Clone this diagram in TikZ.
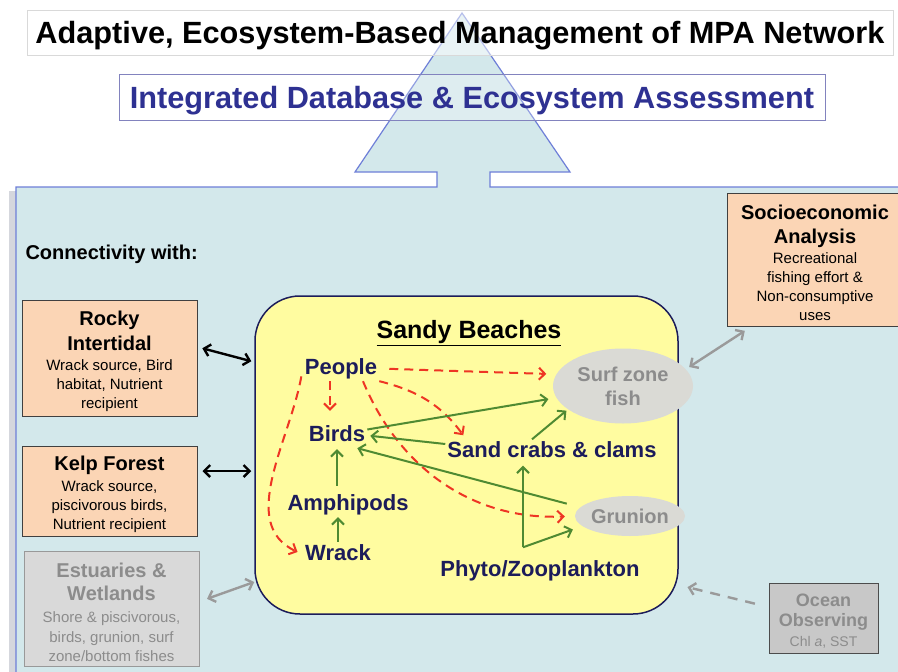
\documentclass[tikz,border=0pt]{standalone}
\usepackage{fontspec}
\setmainfont{Liberation Sans}
\usepackage{tikz}
\usetikzlibrary{arrows.meta,shapes.geometric}
\usetikzlibrary{positioning}

\definecolor{panelblue}{HTML}{D3E8EB}
\definecolor{edgeblue}{HTML}{6E7FD8}
\definecolor{shadegrey}{HTML}{D5D7DD}
\definecolor{peach}{HTML}{FBD5B5}
\definecolor{beachyellow}{HTML}{FFFCA0}
\definecolor{navy}{HTML}{1C1C5A}
\definecolor{intblue}{HTML}{2E3192}
\definecolor{webred}{HTML}{EE3524}
\definecolor{webgreen}{HTML}{4F8A32}
\definecolor{poolgrey}{HTML}{DADAD5}
\definecolor{boxgrey}{HTML}{D9D9D9}
\definecolor{oceangrey}{HTML}{C8C8C8}
\definecolor{txtgrey}{HTML}{8C8C8C}
\definecolor{linkgrey}{HTML}{9A9A9A}

\newcommand{\boxhead}{\fontsize{20}{25}\selectfont\bfseries}
\newcommand{\boxbody}{\fontsize{15}{19}\selectfont}
\newcommand{\headroom}[1]{\rule{0pt}{#1}}

\tikzset{
  linkbox/.style={draw=black!75, line width=1pt, fill=peach, align=center, inner sep=0pt, font=\boxbody},
  greybox/.style={draw=black!40, line width=1pt, fill=boxgrey, text=txtgrey, align=center, inner sep=0pt, font=\boxbody},
  web/.style={font=\fontsize{22}{26}\selectfont\bfseries, text=navy, text height=16pt, text depth=5pt, inner sep=2pt},
  fishpool/.style={ellipse, fill=poolgrey, text=txtgrey, font=\fontsize{20}{24}\selectfont\bfseries, align=center, inner sep=0pt},
  human/.style={->, webred, line width=2pt, dash pattern=on 9pt off 6pt},
  feeds/.style={->, webgreen, line width=2pt},
  bothway/.style={<->, line width=2.4pt},
  >={Straight Barb[length=6pt,width=12pt]},
}

\begin{document}
\begin{tikzpicture}[x=1pt, y=-1pt]
  \useasboundingbox (0,0) rectangle (898,672);
  \fill[white] (0,0) rectangle (898,672);

  % panel and arrow up to the assessment
  \fill[shadegrey] (9,191) rectangle (16,680);
  \filldraw[fill=panelblue, draw=edgeblue, line width=1.2pt]
    (16,690) -- (16,187) -- (437,187) -- (437,172) -- (355,172) -- (462,13)
    -- (570,172) -- (490,172) -- (490,187) -- (910,187) -- (910,690) -- cycle;

  \node[draw=black!15, fill=white, fill opacity=0.5, text opacity=1, inner sep=0pt,
        minimum width=866pt, minimum height=45pt, text depth=0pt,
        font=\fontsize{30.7}{36}\selectfont\bfseries] (goal) at (460,32.5)
        {Adaptive, Ecosystem-Based Management of MPA Network};
  \node[draw=intblue!60, line width=1pt, fill=white, fill opacity=0.25, text opacity=1, inner sep=0pt,
        minimum width=706pt, minimum height=46pt, text=intblue, text depth=0pt,
        font=\fontsize{30.7}{36}\selectfont\bfseries] (assess) at (472,97)
        {Integrated Database \& Ecosystem Assessment};

  \node[font=\fontsize{20}{24}\selectfont\bfseries, anchor=west] (conn) at (22,254) {Connectivity with:};

  % neighbouring habitats
  \node[linkbox, minimum width=175pt, minimum height=116pt] (rocky) at (109.5,358)
    {\headroom{22pt}\boxhead Rocky\\[6pt] \boxhead Intertidal\\[1pt] Wrack source, Bird\\ habitat, Nutrient\\ recipient};
  \node[linkbox, minimum width=175pt, minimum height=90pt] (kelp) at (109.5,491)
    {\headroom{22pt}\boxhead Kelp Forest\\[2pt] Wrack source,\\ piscivorous birds,\\ Nutrient recipient};
  \node[greybox, minimum width=175pt, minimum height=115pt] (estu) at (111.5,608.5)
    {\headroom{22pt}\boxhead Estuaries \&\\[4pt] \boxhead Wetlands\\[3pt] Shore \& piscivorous,\\[1pt] birds, grunion, surf\\ zone/bottom fishes};
  \node[linkbox, minimum width=176pt, minimum height=133pt] (socio) at (815,259.5)
    {\headroom{21pt}\boxhead Socioeconomic\\[5pt] \boxhead Analysis\\[1pt] Recreational\\ fishing effort \&\\ Non-consumptive\\ uses};
  \node[greybox, fill=oceangrey, draw=black!70, minimum width=109pt, minimum height=70pt,
        font=\fontsize{14}{17}\selectfont] (ocean) at (823.5,618)
    {\headroom{19pt}\fontsize{18}{20}\selectfont\bfseries Ocean\\[3pt] \fontsize{18}{20}\selectfont\bfseries Observing\\[3pt] Chl \textit{a}, SST};

  % sandy beach food web
  \node[draw=navy, line width=1.5pt, fill=beachyellow, rounded corners=45pt,
        minimum width=423pt, minimum height=318pt] (sandy) at (466.5,455) {};
  \node[font=\fontsize{25}{30}\selectfont\bfseries] (sbtitle) at (469,333) {\underline{Sandy Beaches}};

  \node[fishpool, minimum width=140pt, minimum height=75pt] (surf) at (623,386) {Surf zone\\fish};
  \node[fishpool, minimum width=110pt, minimum height=40pt] (grunion) at (630,516) {Grunion};

  \node[web] (people) at (341,368.5) {People};
  \node[web] (birds)  at (337,435.5) {Birds};
  \node[web] (amph)   at (348,504.5) {Amphipods};
  \node[web] (wrack)  at (338,554.5) {Wrack};
  \node[web] (sand)   at (552,452) {Sand crabs \& clams};
  \node[web] (phyto)  at (540,571) {Phyto/Zooplankton};
  \coordinate (pz) at ([xshift=-17pt,yshift=11pt]phyto.north);

  \draw[human, shorten <=10pt, shorten >=10pt] (people.east) -- (surf.170);
  \draw[human, shorten >=12pt] ([xshift=-11pt]people.south) -- ([xshift=-7pt]birds.north);
  \draw[human, shorten >=5pt] (people.south east) to[bend left=20] ([xshift=21pt]sand.north west);
  \draw[human, shorten >=10pt] ([xshift=22pt]people.south) to[bend right=35] (grunion.west);
  \draw[human, shorten <=8pt, shorten >=6pt] (people.west) to[out=-100, in=155] (wrack.west);

  \draw[feeds, shorten >=8pt] ([yshift=6pt]birds.east) -- (surf.190);
  \draw[feeds, shorten >=3pt] ([yshift=8pt]sand.west) -- (birds.east);
  \draw[feeds, shorten <=14pt] (grunion.170) -- ([xshift=-10pt]birds.south east);
  \draw[feeds, shorten >=1pt] ([yshift=6pt]amph.north -| birds) -- (birds.south);
  \draw[feeds] (wrack.north) -- (wrack.north |- amph.south);
  \draw[feeds, shorten >=2pt] ([xshift=-20pt]sand.north) -- (surf.203);
  \draw[feeds, shorten >=1pt] (pz) -- (pz |- sand.south);
  \draw[feeds, shorten >=10pt] (pz) -- (grunion.192);

  % links to the other habitats
  \draw[bothway, shorten <=5pt, shorten >=3pt] ([yshift=11pt]rocky.east) -- ([yshift=93pt]sandy.west);
  \draw[bothway, shorten <=5pt, shorten >=3pt] ([yshift=20pt]kelp.east) -- ([yshift=20pt]kelp.east -| sandy.west);
  \draw[bothway, linkgrey, shorten <=8pt] ([yshift=7pt]estu.east) -- ([yshift=-127pt]sandy.west);
  \draw[bothway, linkgrey, shorten <=4pt, shorten >=8pt] (surf.15) -- ([xshift=25pt]socio.south west);
  \draw[->, linkgrey, line width=2.4pt, dash pattern=on 10pt off 8pt, shorten <=14pt, shorten >=9pt]
    ([yshift=11pt]ocean.west) -- ([yshift=-130pt]sandy.east);
\end{tikzpicture}
\end{document}
